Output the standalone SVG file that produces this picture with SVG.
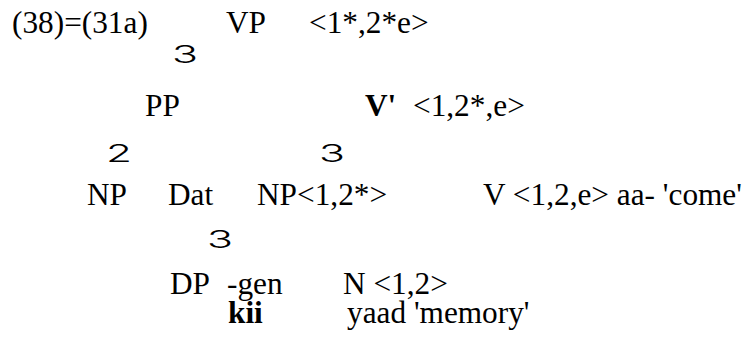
<svg xmlns="http://www.w3.org/2000/svg" width="750" height="339" viewBox="0 0 750 339">
<style>
text{font-family:"Liberation Serif","Times New Roman",serif;font-size:31.3px;fill:#000}
.b{font-weight:bold}
.br{font-family:Inter,"Open Sans","Liberation Sans",sans-serif;font-size:24px;font-weight:300}
</style>
<rect width="750" height="339" fill="#fff"/>
<g id="label"><text x="12" y="33">(38)=(31a)</text></g>
<g id="VP"><text x="226" y="33">VP</text><text x="309" y="33">&lt;1*,2*e&gt;</text></g>
<g id="PP"><text x="145" y="116">PP</text></g>
<g id="Vbar"><text x="365" y="116" class="b">V'</text><text x="413" y="116">&lt;1,2*,e&gt;</text></g>
<g id="NP1"><text x="87" y="205">NP</text></g>
<g id="Dat"><text x="168" y="205">Dat</text></g>
<g id="NP2"><text x="257" y="205">NP&lt;1,2*&gt;</text></g>
<g id="V"><text x="483" y="205">V &lt;1,2,e&gt; aa- 'come'</text></g>
<g id="DP"><text x="170" y="294">DP</text><text x="228" y="323" class="b">kii</text></g>
<g id="gen"><text x="227" y="294">-gen</text></g>
<g id="N"><text x="343" y="294">N &lt;1,2&gt;</text><text x="347" y="323">yaad 'memory'</text></g>
<g id="connectors">
<text class="br" x="172" y="63" textLength="26" lengthAdjust="spacingAndGlyphs">3</text>
<text class="br" x="106" y="162" textLength="26" lengthAdjust="spacingAndGlyphs">2</text>
<text class="br" x="319" y="162" textLength="26" lengthAdjust="spacingAndGlyphs">3</text>
<text class="br" x="207" y="248" textLength="26" lengthAdjust="spacingAndGlyphs">3</text>
</g>
</svg>
